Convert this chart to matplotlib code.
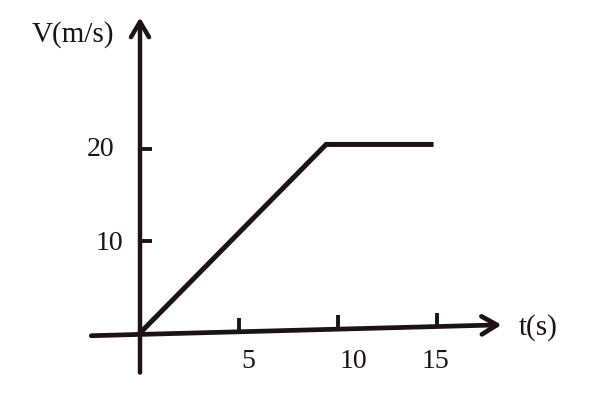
import matplotlib
matplotlib.use("Agg")
import matplotlib.pyplot as plt

# data
t_vals = [0, 9.4, 14.7]
v_vals = [0, 20.5, 20.5]
x_ticks = [5, 10, 15]
x_tick_labels = ["5", "10", "15"]
y_ticks = [10, 20]
y_tick_labels = ["10", "20"]

ink = "#1c1217"
plt.rcParams['font.family'] = ['Liberation Serif', 'DejaVu Serif']

fig = plt.figure(figsize=(5.99, 4.16), dpi=100)
ax = fig.add_axes([0, 0, 1, 1])
ax.set_xlim(-7.07, 23.18)
ax.set_ylim(-9.02, 36.2)
ax.axis('off')

# slightly tilted x axis (as in the scan)
x0, y0, x1, y1 = -2.6, -0.3, 18.4, 0.9
def axis_y(t):
    return y0 + (y1 - y0) * (t - x0) / (x1 - x0)

ax.annotate("", xy=(x1, y1), xytext=(x0, y0),
            arrowprops=dict(arrowstyle="->,head_length=1.1,head_width=0.65", lw=3.4, color=ink))
ax.annotate("", xy=(0, 34.6), xytext=(0, -4.6),
            arrowprops=dict(arrowstyle="->,head_length=1.1,head_width=0.65", lw=3.2, color=ink))

# ticks
for xt in x_ticks:
    b = axis_y(xt)
    ax.plot([xt, xt], [b, b + 1.5], color=ink, lw=2.8, solid_capstyle='butt')
for yt in y_ticks:
    ax.plot([0, 0.6], [yt, yt], color=ink, lw=2.8, solid_capstyle='butt')

x_label_pos = [5.45, 10.8, 14.9]
for xp, lab in zip(x_label_pos, x_tick_labels):
    ax.text(xp, -3.1, lab, ha='center', va='center', fontsize=20, color=ink)
ax.text(-2.0, 19.9, y_tick_labels[1], ha='center', va='center', fontsize=20, color=ink)
ax.text(-1.55, 9.7, y_tick_labels[0], ha='center', va='center', fontsize=20, color=ink)

# graph line
ax.plot(t_vals, v_vals, color=ink, lw=3.6, solid_joinstyle='miter')

# axis labels
ax.text(20.1, 0.6, "t(s)", ha='center', va='center', fontsize=21, color=ink)
ax.text(-3.4, 32.4, "V(m/s)", ha='center', va='center', fontsize=21, color=ink)

fig.savefig("out.png", dpi=100)
